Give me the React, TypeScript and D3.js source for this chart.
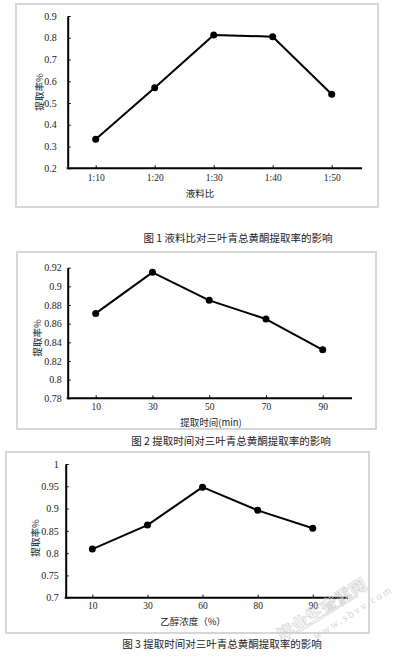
import * as d3 from "d3";
import { useEffect, useRef } from "react";

// chart 1
const ratioCats = ["1:10", "1:20", "1:30", "1:40", "1:50"];
const ratioRate = [0.333, 0.57, 0.813, 0.805, 0.54];
const ratioTicks = [0.2, 0.3, 0.4, 0.5, 0.6, 0.7, 0.8, 0.9];

// chart 2
const timeCats = ["10", "30", "50", "70", "90"];
const timeRate = [0.871, 0.915, 0.885, 0.865, 0.832];
const timeTicks = [0.78, 0.8, 0.82, 0.84, 0.86, 0.88, 0.9, 0.92];

// chart 3
const ethCats = ["10", "30", "60", "80", "90"];
const ethRate = [0.809, 0.863, 0.948, 0.896, 0.856];
const ethTicks = [0.7, 0.75, 0.8, 0.85, 0.9, 0.95, 1];

const serif = "'Liberation Serif', 'Times New Roman', serif";
const cjk = "'Noto Sans CJK SC', sans-serif";

const charts = [
  {
    cats: ratioCats, vals: ratioRate, ticks: ratioTicks,
    frame: [16, 4, 362, 203], plot: [66.2, 361.2, 16, 168.3], axisX: 67.7, axisEnd: 362,
    yPad: 11, xPad: 6,
    xLabel: "液料比", xLabelPos: [200, 197], yLabelPos: [39, 92],
    caption: "图 1  液料比对三叶青总黄酮提取率的影响", capPos: [238, 242],
  },
  {
    cats: timeCats, vals: timeRate, ticks: timeTicks,
    frame: [17, 252, 359, 177], plot: [67.3, 351.1, 267.7, 398.3], axisX: 67.7, axisEnd: 352,
    yPad: 6, xPad: 5,
    xLabel: "提取时间(min)", xLabelPos: [211, 425.5], yLabelPos: [37, 338],
    caption: "图 2 提取时间对三叶青总黄酮提取率的影响", capPos: [231, 444.5],
  },
  {
    cats: ethCats, vals: ethRate, ticks: ethTicks,
    frame: [6, 452, 363, 181], plot: [64.8, 340.3, 464, 597.7], axisX: 65.7, axisEnd: 348,
    yPad: 7, xPad: 5,
    xLabel: "乙醇浓度（%）", xLabelPos: [193, 625], yLabelPos: [35, 538],
    caption: "图 3  提取时间对三叶青总黄酮提取率的影响", capPos: [222, 648],
  },
];

export default function App() {
  const ref = useRef<SVGSVGElement>(null);

  useEffect(() => {
    const svg = d3.select(ref.current);
    svg.selectAll("*").remove();

    svg.append("rect").attr("width", 395).attr("height", 660).attr("fill", "#fff");

    charts.forEach((c) => {
      const [fx, fy, fw, fh] = c.frame;
      const [left, right, top, bottom] = c.plot;
      const g = svg.append("g");

      g.append("rect")
        .attr("x", fx).attr("y", fy).attr("width", fw).attr("height", fh)
        .attr("fill", "none").attr("stroke", "#d6d6d6").attr("stroke-width", 2);

      const x = d3.scalePoint<string>().domain(c.cats).range([left, right]).padding(0.5);
      const y = d3.scaleLinear()
        .domain([c.ticks[0], c.ticks[c.ticks.length - 1]])
        .range([bottom, top]);

      // y axis
      const yAxis = d3.axisLeft(y).tickValues(c.ticks).tickFormat((d) => String(d))
        .tickSizeInner(-3).tickSizeOuter(0).tickPadding(c.yPad);
      const ya = g.append("g").attr("transform", `translate(${c.axisX},0)`).call(yAxis);
      ya.select(".domain").attr("stroke", "#000").attr("stroke-width", 2);
      ya.selectAll(".tick line").attr("stroke", "#000").attr("stroke-width", 1);
      ya.selectAll(".tick text").attr("font-family", serif).attr("font-size", 10).attr("fill", "#222");

      // x axis
      const xAxis = d3.axisBottom(x).tickSizeInner(-3).tickSizeOuter(0).tickPadding(c.xPad);
      const xa = g.append("g").attr("transform", `translate(0,${bottom})`).call(xAxis);
      xa.select(".domain").attr("d", `M${c.axisX - 1},0H${c.axisEnd}`)
        .attr("stroke", "#000").attr("stroke-width", 2);
      xa.selectAll(".tick line").attr("stroke", "#000").attr("stroke-width", 1);
      xa.selectAll(".tick text").attr("font-family", serif).attr("font-size", 9.5).attr("fill", "#222");

      // line + markers
      const pts = c.cats.map((k, i) => [x(k) as number, y(c.vals[i])] as [number, number]);
      g.append("path")
        .attr("d", d3.line()(pts))
        .attr("fill", "none").attr("stroke", "#000").attr("stroke-width", 2)
        .attr("stroke-linejoin", "round");
      g.selectAll("circle.pt").data(pts).enter().append("circle")
        .attr("class", "pt")
        .attr("cx", (d) => d[0]).attr("cy", (d) => d[1]).attr("r", 3.5)
        .attr("fill", "#000");

      // axis titles
      g.append("text")
        .attr("transform", `translate(${c.yLabelPos[0]},${c.yLabelPos[1]}) rotate(-90)`)
        .attr("text-anchor", "middle").attr("dominant-baseline", "central")
        .attr("font-family", cjk).attr("font-size", 9.5).attr("fill", "#222")
        .text("提取率%");
      g.append("text")
        .attr("x", c.xLabelPos[0]).attr("y", c.xLabelPos[1])
        .attr("text-anchor", "middle")
        .attr("font-family", cjk).attr("font-size", 9.5).attr("fill", "#222")
        .text(c.xLabel);

      // caption
      g.append("text")
        .attr("x", c.capPos[0]).attr("y", c.capPos[1])
        .attr("text-anchor", "middle")
        .attr("font-family", cjk).attr("font-size", 10.5).attr("fill", "#222")
        .text(c.caption);
    });

    // faint watermark
    const wm = svg.append("g").attr("transform", "translate(282,642) rotate(-32)");
    wm.append("text").attr("font-family", cjk).attr("font-size", 17).attr("font-weight", "bold")
      .attr("fill", "none").attr("stroke", "#ccc").attr("stroke-width", 0.8).attr("opacity", 0.8)
      .text("毕业生查重网");
    wm.append("text").attr("x", 30).attr("y", 16).attr("font-family", serif).attr("font-size", 11)
      .attr("fill", "#ccc").attr("opacity", 0.8).attr("letter-spacing", 2)
      .text("www.sbvv.com");
  }, []);

  return (
    <div style={{ position: "absolute", left: 0, top: 0 }}>
      <svg ref={ref} width={395} height={660} style={{ display: "block" }} />
    </div>
  );
}
